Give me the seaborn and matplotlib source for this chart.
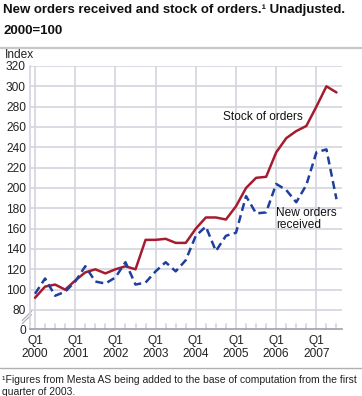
import matplotlib
matplotlib.use("Agg")
import matplotlib.pyplot as plt
import seaborn as sns
import pandas as pd
from matplotlib.lines import Line2D

years = ["2000", "2001", "2002", "2003", "2004", "2005", "2006", "2007"]
stock_of_orders = [92, 103, 105, 100, 109, 117, 120, 116, 120, 123, 120, 149,
                   149, 150, 146, 146, 160, 171, 171, 169, 182, 200, 210, 211,
                   235, 249, 256, 261, 280, 300, 294]
new_orders = [96, 111, 94, 98, 108, 123, 108, 106, 112, 127, 105, 107,
              118, 127, 118, 129, 153, 162, 138, 153, 156, 192, 175, 176,
              204, 198, 186, 203, 235, 238, 189]
y_ticks = [80, 100, 120, 140, 160, 180, 200, 220, 240, 260, 280, 300, 320]

sns.set_theme(style="white")
plt.rcParams['font.family'] = ['Liberation Sans', 'DejaVu Sans']

n = len(stock_of_orders)
df = pd.DataFrame({
    "q": list(range(n)) * 2,
    "value": stock_of_orders + new_orders,
    "series": ["Stock of orders"] * n + ["New orders received"] * n,
})

W, H = 362, 396
fig = plt.figure(figsize=(W / 100, H / 100), dpi=100)
ax = fig.add_axes([30 / W, 1 - 329 / H, 312 / W, 263 / H])

red = "#A51C30"
blue = "#1F3F9E"
grid_c = "#D4D6DE"

ymin = 61.3
ax.set_xlim(-0.5, 30.55)
ax.set_ylim(ymin, 320)

# grid
for v in y_ticks:
    ax.axhline(v, color=grid_c, lw=1.2, zorder=0)
for q in range(0, 32, 4):
    ax.axvline(q, color=grid_c, lw=1.2, zorder=0)

sns.lineplot(data=df[df.series == "Stock of orders"], x="q", y="value",
             color=red, lw=1.8, ax=ax, legend=False, zorder=3)
sns.lineplot(data=df[df.series == "New orders received"], x="q", y="value",
             color=blue, lw=1.8, ax=ax, legend=False, zorder=3,
             linestyle=(0, (3.2, 1.8)))

ax.set_xlabel("")
ax.set_ylabel("")
for s in ["top", "right"]:
    ax.spines[s].set_visible(False)
ax.spines["left"].set_color(grid_c)
ax.spines["left"].set_linewidth(1.2)
ax.spines["bottom"].set_color("#A0A0A8")
ax.spines["bottom"].set_linewidth(1.2)

ax.set_yticks([ymin] + y_ticks)
ax.set_yticklabels(["0"] + [str(v) for v in y_ticks], fontsize=8.6, color="#222222")
ax.set_xticks(list(range(0, 32, 4)))
ax.set_xticklabels([f"Q1\n{y}" for y in years], fontsize=8.6, color="#222222",
                   linespacing=1.15)
ax.tick_params(axis="both", length=0, pad=3)
ax.tick_params(axis="x", pad=4)

# minor quarter ticks at bottom (inside)
for q in range(n):
    if q % 4 != 0:
        ax.plot([q, q], [0, 0.02], transform=ax.get_xaxis_transform(),
                color=grid_c, lw=1.2, clip_on=False, zorder=1)

# axis break marks
for dy in (0.0, 0.012):
    ax.add_line(Line2D([-0.025, 0.005], [0.02 + dy, 0.055 + dy],
                       transform=ax.transAxes, color="#B0B0B8", lw=0.9,
                       clip_on=False))

ax.text(18.7, 270, "Stock of orders", fontsize=8.6, ha="left", va="center",
        color="#111111")
ax.text(24.0, 169.5, "New orders\nreceived", fontsize=8.6, ha="left",
        va="center", color="#111111", linespacing=1.0)

# titles and frame texts
fig.text(3 / W, 1 - 8.5 / H,
         "New orders received and stock of orders.\u00b9 Unadjusted.",
         fontsize=9.55, fontweight="bold", ha="left", va="center_baseline",
         color="#111111")
fig.text(3 / W, 1 - 29.5 / H, "2000=100",
         fontsize=9.55, fontweight="bold", ha="left", va="center_baseline",
         color="#111111")
fig.add_artist(Line2D([0, 1], [1 - 48 / H, 1 - 48 / H], color="#C8C8C8",
                      lw=1.6, transform=fig.transFigure))
fig.text(5 / W, 1 - 55 / H, "Index", fontsize=8.6, ha="left", va="center",
         color="#222222")
fig.add_artist(Line2D([0, 1], [1 - 368 / H, 1 - 368 / H], color="#B0B0B0",
                      lw=1.0, transform=fig.transFigure))
fig.text(2 / W, 1 - 386 / H,
         "\u00b9Figures from Mesta AS being added to the base of computation from the first\nquarter of 2003.",
         fontsize=7.5, ha="left", va="center", linespacing=1.2, color="#222222")

fig.savefig("out.png", dpi=100)
